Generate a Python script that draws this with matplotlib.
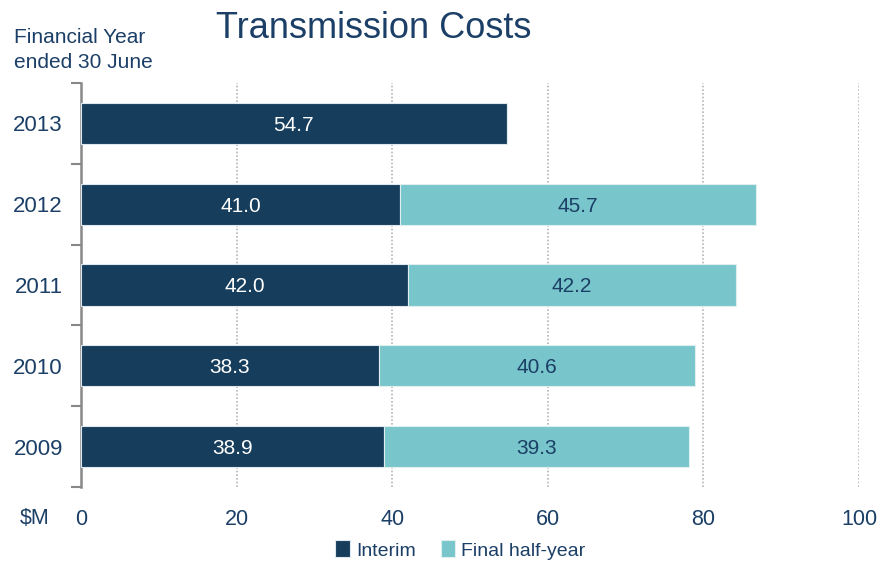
import matplotlib
matplotlib.use("Agg")
import matplotlib.pyplot as plt
import numpy as np

years = ["2013", "2012", "2011", "2010", "2009"]
interim = [54.7, 41.0, 42.0, 38.3, 38.9]
final_half = [0.0, 45.7, 42.2, 40.6, 39.3]
final_labels = ["", "45.7", "42.2", "40.6", "39.3"]
xticks = [0, 20, 40, 60, 80, 100]

NAVY = "#163d5c"
TEAL = "#78c6cb"
TXT = "#1b3f66"

fam = ["Liberation Sans Narrow", "Liberation Sans", "DejaVu Sans"]
plt.rcParams["font.family"] = fam

fig = plt.figure(figsize=(8.77, 5.61), dpi=100)
ax = fig.add_axes([81/877, 1-487/561, (859-81)/877, (487-83)/561])

y = np.arange(len(years))
ax.barh(y, interim, height=0.51, color=NAVY, edgecolor="#dfe8ee", linewidth=0.8, zorder=3, label="Interim")
ax.barh(y, final_half, left=interim, height=0.51, color=TEAL, edgecolor="#dfeff0", linewidth=0.8, zorder=3, label="Final half-year")

for i in range(len(years)):
    ax.text(interim[i]/2, y[i], f"{interim[i]:.1f}", ha="center", va="center_baseline",
            color="white", fontsize=15, zorder=4)
    if final_labels[i]:
        ax.text(interim[i] + final_half[i]/2, y[i], final_labels[i], ha="center", va="center_baseline",
                color=TXT, fontsize=15, zorder=4)

ax.set_xlim(0, 100)
ax.set_ylim(4.5, -0.5)
ax.set_xticks(xticks)
ax.set_xticklabels([str(v) for v in xticks], fontsize=15.5, color=TXT)
ax.tick_params(axis="x", length=0, pad=16)
ax.set_yticks(y)
ax.set_yticklabels(years, fontsize=16, color=TXT)
ax.tick_params(axis="y", which="major", length=0, pad=13)
ax.set_yticks(np.arange(-0.5, 5.0, 1.0), minor=True)
ax.tick_params(axis="y", which="minor", length=7, width=1.5, color="#888888")

for v in xticks[1:]:
    ax.axvline(v, color="#b5b5b5", linestyle=(0, (1, 1.2)), linewidth=1.2, zorder=1)

for s in ["top", "right", "bottom"]:
    ax.spines[s].set_visible(False)
ax.spines["left"].set_color("#888888")
ax.spines["left"].set_linewidth(1.8)

fig.text(374/877, 1-28/561, "Transmission Costs", ha="center", va="center",
         fontsize=26, color=TXT)
fig.text(14/877, 1-50/561, "Financial Year\nended 30 June", ha="left", va="center",
         fontsize=15, color=TXT, linespacing=1.45)
fig.text(20/877, 1-518/561, "$M", ha="left", va="center", fontsize=15.5, color=TXT)

fig.legend(loc="center", bbox_to_anchor=(0.525, 1-550/561), ncol=2, frameon=False,
           fontsize=14, handlelength=0.75, handleheight=0.95, handletextpad=0.3,
           columnspacing=1.3, labelcolor=TXT)

fig.savefig("out.png", dpi=100)
